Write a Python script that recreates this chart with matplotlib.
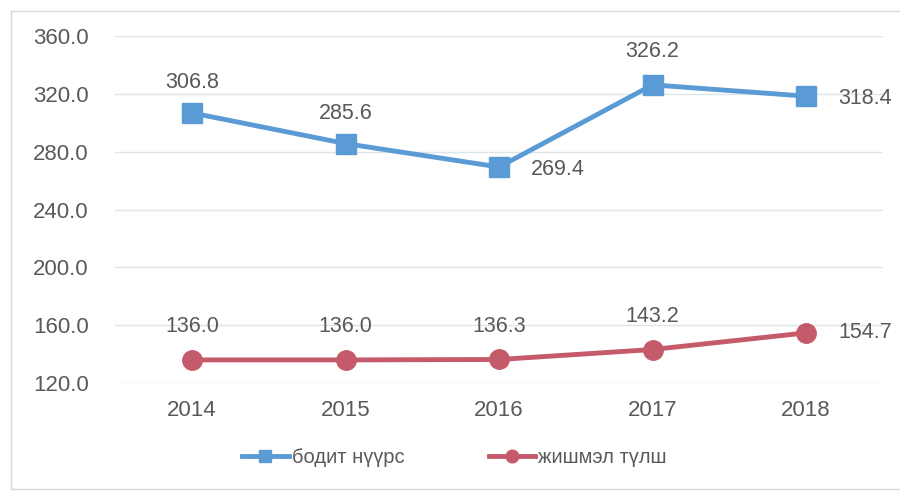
import matplotlib
matplotlib.use("Agg")
import matplotlib.pyplot as plt
from matplotlib.lines import Line2D

# Дата
years = ["2014", "2015", "2016", "2017", "2018"]
bodit = [306.8, 285.6, 269.4, 326.2, 318.4]
jishmel = [136.0, 136.0, 136.3, 143.2, 154.7]
y_ticks = [120.0, 160.0, 200.0, 240.0, 280.0, 320.0, 360.0]

blue = "#5B9BD5"
red = "#C55A6A"
grey = "#595959"

plt.rcParams["font.family"] = ["Liberation Sans", "DejaVu Sans"]

fig = plt.figure(figsize=(9, 4.93), dpi=100)
ax = fig.add_axes([0.128, 0.223, 0.853, 0.704])

x = list(range(len(years)))
ax.plot(x, bodit, color=blue, lw=3.5, marker="s", ms=14, label="бодит нүүрс", zorder=3)
ax.plot(x, jishmel, color=red, lw=3.5, marker="o", ms=14, label="жишмэл түлш", zorder=3)

# тэмдэглэгээний байрлал (dx, dy), цэгээс point-оор
blue_off = [(0, 22), (0, 22), (23, -2), (0, 24), (23, -2)]
red_off = [(0, 24), (0, 24), (0, 24), (0, 24), (23, 0)]
for series, offs in ((bodit, blue_off), (jishmel, red_off)):
    for i, (v, (dx, dy)) in enumerate(zip(series, offs)):
        ax.annotate(f"{v:.1f}", (i, v), xytext=(dx, dy), textcoords="offset points",
                    ha="center" if dx == 0 else "left", va="center",
                    fontsize=15.5, color=grey)

ax.set_xlim(-0.5, 4.5)
ax.set_ylim(120, 360)
ax.set_xticks(x)
ax.set_xticklabels(years)
ax.set_yticks(y_ticks)
ax.set_yticklabels([f"{t:.1f}" for t in y_ticks])
ax.tick_params(length=0, labelsize=16, colors=grey)
ax.tick_params(axis="y", pad=19)
ax.tick_params(axis="x", pad=12)
ax.grid(axis="y", color="#DCE6EA", lw=1)
ax.set_axisbelow(True)
for s in ax.spines.values():
    s.set_visible(False)

fig.legend(loc="center", bbox_to_anchor=(0.505, 0.072), ncol=2, frameon=False,
           fontsize=14.5, labelcolor=grey, handlelength=2.3, handletextpad=0.15,
           columnspacing=4.2, markerscale=0.65)

# хүрээ (баруун тал нь тасарсан)
frame_col = "#D9D9D9"
fig.add_artist(Line2D([0.012, 1.0], [0.978, 0.978], color=frame_col, lw=1))
fig.add_artist(Line2D([0.012, 1.0], [0.008, 0.008], color=frame_col, lw=1))
fig.add_artist(Line2D([0.012, 0.012], [0.008, 0.978], color=frame_col, lw=1))

fig.savefig("out.png", dpi=100)
